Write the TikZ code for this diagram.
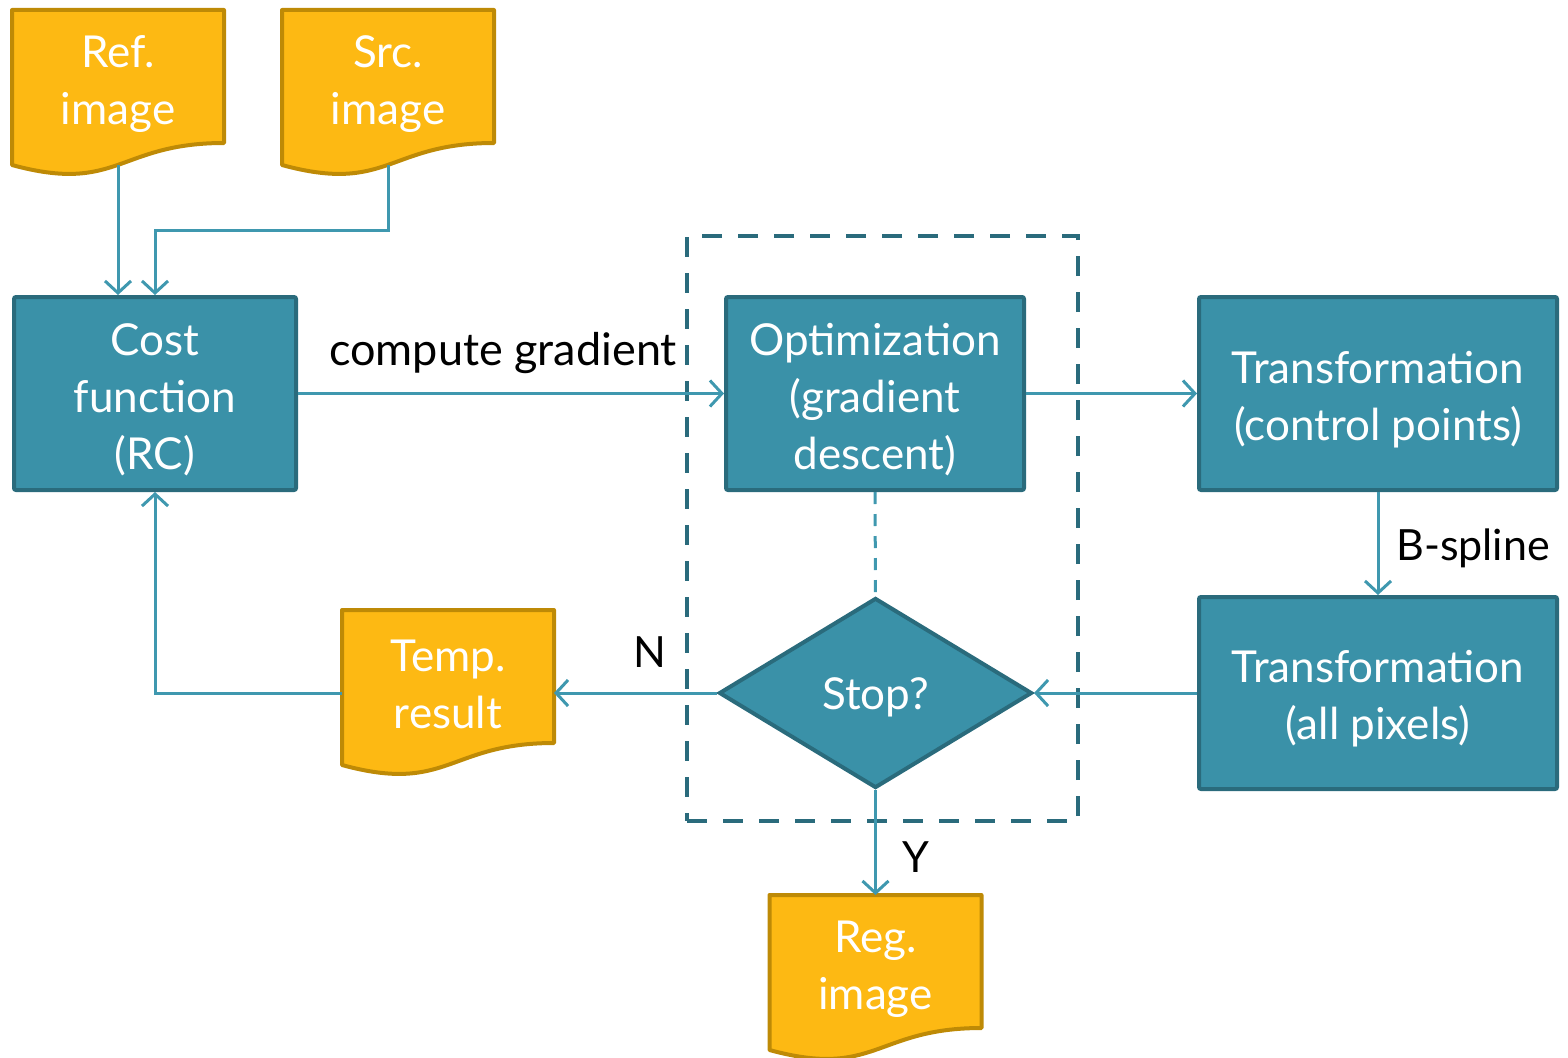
\documentclass[tikz,border=0pt]{standalone}
\usepackage{fontspec}
\setmainfont{Lato}
\usetikzlibrary{arrows.meta,calc,shapes.geometric,backgrounds}
\definecolor{tealF}{HTML}{3A91A8}
\definecolor{tealD}{HTML}{2A6B7C}
\definecolor{lineC}{HTML}{3F98AF}
\definecolor{orF}{HTML}{FDB913}
\definecolor{orD}{HTML}{BE8A06}
\newcommand\docshape[1]{%
  \begin{scope}[on background layer, shift={(#1.center)}]
    \filldraw[docfill] (-106,-68) -- (106,-68) -- (106,65)
      .. controls (0,65) and (0,116) .. (-106,87) -- cycle;
  \end{scope}}
\newcommand\lift{\rule{0pt}{44pt}}
\begin{document}
\begin{tikzpicture}[x=1pt,y=-1pt,
  lowtext/.style={execute at begin node={\rule{0pt}{#1}}},
  proc/.style={draw=tealD, fill=tealF, line width=4pt, rounded corners=2pt,
    text=white, align=center, inner sep=0pt, font=\fontsize{44}{57}\selectfont},
  doctext/.style={inner sep=0pt, text=white, align=center, font=\fontsize{44}{57}\selectfont},
  docfill/.style={draw=orD, fill=orF, line width=4pt, line join=round},
  conn/.style={draw=lineC, line width=3pt, -{Straight Barb[length=12pt,width=26pt,line width=3pt]}},
  lab/.style={inner sep=0pt, text=black, font=\fontsize{43}{50}\selectfont},
  frame/.style={draw=tealD, line width=4pt, dash pattern=on 20pt off 16pt, minimum width=391pt, minimum height=585pt, inner sep=0pt}
]
\useasboundingbox (0,0) rectangle (1568,1057);

% dashed loop frame
\node[frame] (loop) at (882.5,528.5) {};

% documents
\node[doctext] (ref) at (118,78) {\lift Ref.\\image};
\docshape{ref}
\node[doctext] (src) at (388,78) {\lift Src.\\image};
\docshape{src}
\node[doctext] (temp) at (448,678) {\lift Temp.\\result};
\docshape{temp}
\node[doctext] (reg) at (875.5,963) {\lift Reg.\\image};
\docshape{reg}

\coordinate (ref-out) at ($(ref.center)+(0,87)$);
\coordinate (src-out) at ($(src.center)+(0,87)$);
\coordinate (temp-in) at ($(temp.center)+(106,15)$);
\coordinate (temp-out) at ($(temp.center)+(-106,15)$);
\coordinate (reg-in) at ($(reg.center)+(0,-68)$);

% processes
\node[proc, minimum width=282pt, minimum height=193pt] (cost) at (155,393.5) {\lift Cost\\function\\(RC)};
\node[proc, minimum width=298pt, minimum height=193pt] (opt) at (875,393.5) {\lift Optimization\\(gradient\\descent)};
\node[proc, minimum width=358pt, minimum height=193pt] (tcp) at (1378,393.5) {\lift Transformation\\(control points)};
\node[proc, minimum width=358pt, minimum height=192pt] (tap) at (1378,693) {\lift Transformation\\(all pixels)};
\node[diamond, draw=tealD, fill=tealF, line width=4pt, text=white, inner sep=0pt, lowtext=40pt,
      minimum width=313pt, minimum height=190pt, font=\fontsize{44}{57}\selectfont] (stop) at (875.5,693) {Stop?};

% connectors
\draw[conn] (ref-out) -- (ref-out |- cost.north);
\draw[conn] (src-out) -- ($(src-out)+(0,65)$) -| (cost.north);
\draw[conn] (cost.east) -- (opt.west);
\draw[conn] (opt.east) -- (tcp.west);
\draw[conn] (tcp.south) -- (tap.north);
\draw[conn] (tap.west) -- (stop.east);
\draw[conn] (stop.west) -- (temp-in);
\draw[conn] (temp-out) -| (cost.south);
\draw[conn] (stop.south) -- (reg-in);
\draw[draw=lineC, line width=3pt, dash pattern=on 12pt off 10pt] (opt.south) -- (stop.north);

% labels
\node[lab, font=\fontsize{45}{50}\selectfont] (lgrad) at (503,353) {compute gradient};
\node[lab] (lbsp) at (1473,548) {B-spline};
\node[lab] (ln) at (650,652) {N};
\node[lab] (ly) at (916,857) {Y};
\end{tikzpicture}
\end{document}
